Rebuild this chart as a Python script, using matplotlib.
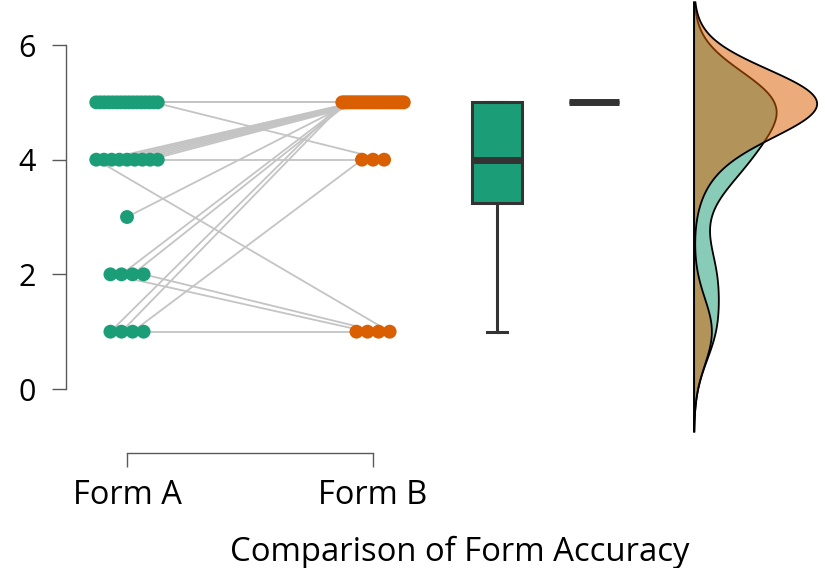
import numpy as np
import matplotlib
matplotlib.use("Agg")
import matplotlib.pyplot as plt
from matplotlib.colors import to_rgba

plt.rcParams['font.family'] = ['Open Sans', 'DejaVu Sans']

# paired accuracy scores, one entry per participant (same order in both lists)
form_a = [1, 1, 1, 1,
          2, 2, 2, 2,
          3,
          4, 4, 4, 4, 4, 4, 4, 4, 4,
          5, 5, 5, 5, 5, 5, 5, 5, 5, 5, 5, 5, 5, 5, 5, 5]
form_b = [5, 5, 4, 1,
          1, 5, 5, 1,
          5,
          1, 5, 5, 5, 5, 5, 5, 5, 4,
          5, 5, 5, 5, 5, 5, 5, 5, 5, 5, 5, 5, 5, 5, 4, 5]

groups = ["Form A", "Form B"]
colors = ["#1b9e77", "#d95f02"]
xlabel = "Comparison of Form Accuracy"
yticks = [0, 2, 4, 6]


def bw_nrd0(x):
    x = np.asarray(x, float)
    sd = x.std(ddof=1)
    q75, q25 = np.percentile(x, [75, 25])
    lo = min(sd, (q75 - q25) / 1.34)
    if lo == 0:
        lo = sd
    return 0.9 * lo * len(x) ** -0.2


def kde(x, n=512):
    x = np.asarray(x, float)
    bw = bw_nrd0(x)
    g = np.linspace(x.min() - 3 * bw, x.max() + 3 * bw, n)
    d = np.exp(-0.5 * ((g[:, None] - x[None, :]) / bw) ** 2).sum(axis=1)
    d = d / (len(x) * bw * np.sqrt(2 * np.pi))
    return g, d


def spread(values, center, half=0.125, step_max=0.045):
    # deterministic side-by-side spread of tied values
    values = np.asarray(values)
    xs = np.full(len(values), float(center))
    for v in np.unique(values):
        idx = np.where(values == v)[0]
        k = len(idx)
        if k > 1:
            step = min(2 * half / (k - 1), step_max)
            xs[idx] = center + (np.arange(k) - (k - 1) / 2) * step
    return xs


fig = plt.figure(figsize=(8.25, 5.68), dpi=100)
ax = fig.add_axes([66 / 825, 115 / 568, 759 / 825, 453 / 568])
ax.set_xlim(0.752, 3.837)
ax.set_ylim(-1.116, 6.785)

xa = spread(form_a, 1)
xb = spread(form_b, 2)

# paired lines
for i in range(len(form_a)):
    ax.plot([xa[i], xb[i]], [form_a[i], form_b[i]], color="#c4c4c4", lw=1.3, zorder=1)

ax.scatter(xa, form_a, s=100, color=colors[0], edgecolors="none", zorder=3)
ax.scatter(xb, form_b, s=100, color=colors[1], edgecolors="none", zorder=3)

# boxes
edge = "#333333"
bp = ax.boxplot([form_a, form_b], positions=[2.504, 2.90], widths=0.203,
                patch_artist=True, showfliers=False, whis=1.5, capwidths=0.081,
                medianprops=dict(color=edge, lw=5, solid_capstyle="butt"),
                boxprops=dict(edgecolor=edge, lw=2.2),
                whiskerprops=dict(color=edge, lw=2.2),
                capprops=dict(color=edge, lw=2.2),
                manage_ticks=False)
for patch, c in zip(bp["boxes"], colors):
    patch.set_facecolor(c)

# half densities, same scale for both
base = 3.305
dens = [kde(form_a), kde(form_b)]
scale = 0.5 / max(d.max() for _, d in dens)
for (g, d), c in zip(dens, colors):
    xs = np.concatenate([[base], base + d * scale, [base]])
    ys = np.concatenate([[g[0]], g, [g[-1]]])
    ax.fill(xs, ys, facecolor=to_rgba(c, 0.52), edgecolor="black", lw=1.3, zorder=2)

# axes styling
for s in ["top", "right"]:
    ax.spines[s].set_visible(False)
ax.spines["left"].set_bounds(0, 6)
ax.spines["bottom"].set_bounds(1, 2)
for s in ["left", "bottom"]:
    ax.spines[s].set_color("#5a5a5a")
    ax.spines[s].set_linewidth(1)

ax.set_yticks(yticks)
ax.set_xticks([1, 2])
ax.set_xticklabels(groups)
ax.tick_params(axis="both", direction="out", length=10, width=1, color="#5a5a5a")
ax.tick_params(axis="y", labelsize=22, pad=12)
ax.tick_params(axis="x", labelsize=23.5, pad=9)

fig.text(460 / 825, 7 / 568, xlabel, fontsize=23.7, ha="center", va="baseline")

fig.savefig("out.png", dpi=100)
